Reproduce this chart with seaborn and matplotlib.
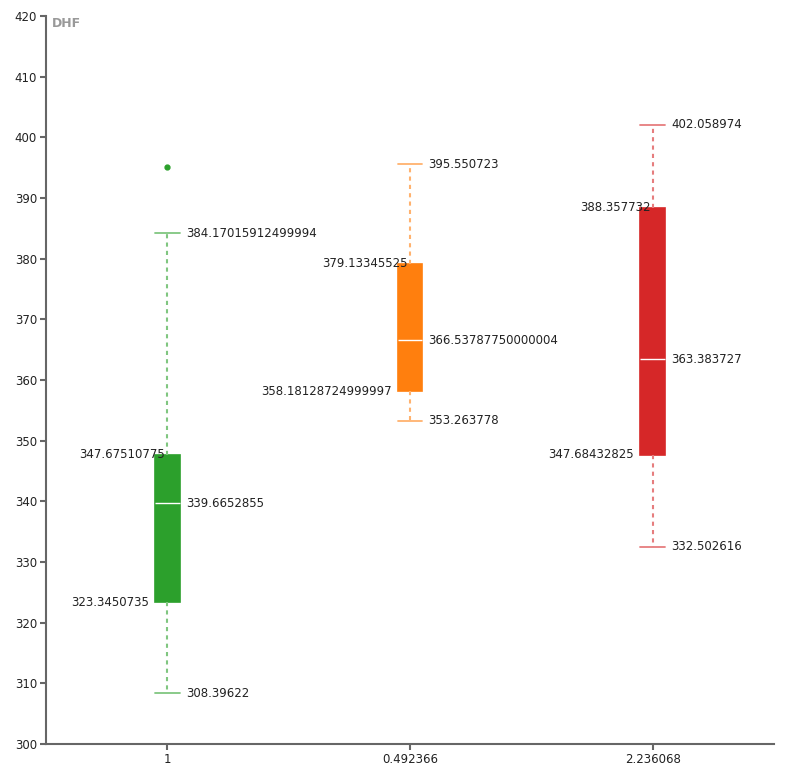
import matplotlib.pyplot as plt
import numpy as np
import pandas as pd
import seaborn as sns

# Box statistics
cats = ["1", "0.492366", "2.236068"]
lows = [308.39622, 353.263778, 332.502616]
q1s = [323.3450735, 358.18128724999997, 347.68432825]
medians = [339.6652855, 366.53787750000004, 363.383727]
q3s = [347.67510775, 379.13345525, 388.357732]
highs = [384.17015912499994, 395.550723, 402.058974]
outliers = [[395.1], [], []]
colors = ["#2ca02c", "#ff7f0e", "#d62728"]


def lighten(hex_color, amount=0.4):
    rgb = np.array(plt.matplotlib.colors.to_rgb(hex_color))
    return tuple(rgb + (1 - rgb) * amount)


# Build samples that reproduce the five-number summaries
rows = []
for cat, lo, a, m, b, hi, out in zip(cats, lows, q1s, medians, q3s, highs, outliers):
    for v in [lo, a, a, m, m, b, b, hi] + out:
        rows.append({"x": cat, "DHF": v})
df = pd.DataFrame(rows)

sns.set_style("white")
plt.rcParams["font.family"] = ["DejaVu Sans"]

fig = plt.figure(figsize=(7.9, 7.7), dpi=100)
ax = fig.add_axes([46 / 790, 26 / 770, 728 / 790, 728 / 770])

box_w = 0.102
for cat, col in zip(cats, colors):
    light = lighten(col, 0.4)
    sns.boxplot(
        data=df[df["x"] == cat],
        x="x",
        y="DHF",
        order=cats,
        color=col,
        width=box_w,
        whis=1.51,
        linewidth=1.2,
        saturation=1,
        ax=ax,
        boxprops={"facecolor": col, "edgecolor": col},
        medianprops={"color": "white", "linewidth": 1.0},
        whiskerprops={"color": light, "linestyle": (0, (2, 2)), "linewidth": 1.5},
        capprops={"color": light, "linewidth": 1.3},
        flierprops={
            "marker": "o",
            "markersize": 3.5,
            "markerfacecolor": col,
            "markeredgecolor": col,
        },
        capwidths=box_w,
    )

# Value labels
lab_kw = dict(fontsize=8.5, color="#222222", va="center")
for i, cat in enumerate(cats):
    ax.text(i + 0.076, highs[i], repr(highs[i]), ha="left", **lab_kw)
    ax.text(i + 0.076, medians[i], repr(medians[i]), ha="left", **lab_kw)
    ax.text(i + 0.076, lows[i], repr(lows[i]), ha="left", **lab_kw)
    ax.text(i - 0.008, q3s[i], repr(q3s[i]), ha="right", **lab_kw)
    ax.text(i - 0.076, q1s[i], repr(q1s[i]), ha="right", **lab_kw)

ax.set_ylim(300, 420)
ax.set_yticks(np.arange(300, 421, 10))
ax.set_xlim(-0.5, 2.5)
ax.set_xlabel("")
ax.set_ylabel("")
ax.text(6 / 728, 1 - 1 / 728, "DHF", transform=ax.transAxes, ha="left", va="top",
        fontsize=9, fontweight="bold", color="#999999")

for s in ["top", "right"]:
    ax.spines[s].set_visible(False)
for s in ["left", "bottom"]:
    ax.spines[s].set_color("#666666")
    ax.spines[s].set_linewidth(1.5)
ax.tick_params(axis="both", direction="out", length=4.5, width=1.5, color="#666666",
               labelsize=8.5, labelcolor="#222222", pad=2)
ax.tick_params(axis="y", left=True)
ax.tick_params(axis="x", bottom=True)

fig.savefig("out.png", dpi=100)
